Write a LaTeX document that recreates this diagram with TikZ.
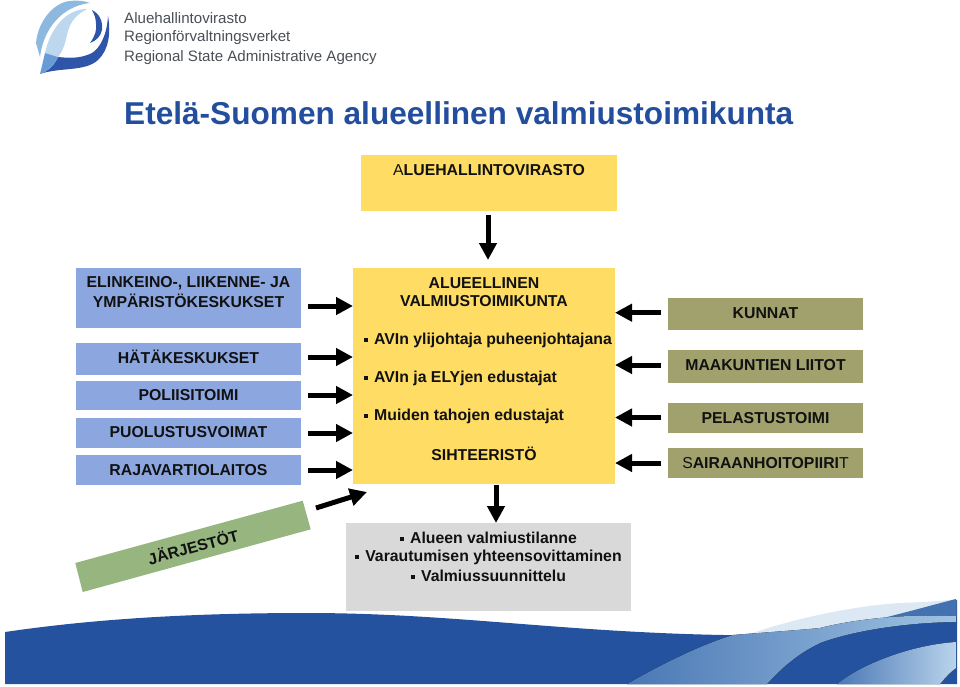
\documentclass[tikz,border=0pt]{standalone}
\usepackage{fontspec}
\setmainfont{Liberation Sans}
\usetikzlibrary{arrows.meta}
\definecolor{bluebox}{HTML}{8CA7E0}
\definecolor{yellowbox}{HTML}{FFDC64}
\definecolor{olivebox}{HTML}{A0A16C}
\definecolor{greenbox}{HTML}{96B57F}
\definecolor{graybox}{HTML}{D9D9D9}
\definecolor{titleblue}{HTML}{234E9E}
\definecolor{wavedark}{HTML}{24529F}
\definecolor{logotext}{HTML}{4A4F55}
\definecolor{ink}{HTML}{111111}
\newcommand{\bul}{\rule[2.5pt]{4pt}{4pt}}
\newcommand{\rg}[1]{{\mdseries #1}}
\tikzset{
  plainbox/.style={inner sep=0pt,outer sep=0pt,draw=none},
  lbl/.style={font=\fontsize{15.8}{15.8}\selectfont\bfseries,text=ink,inner sep=0pt},
  blk/.style={-{Triangle[length=17pt,width=17pt]},line width=5pt,draw=black},
  logoline/.style={font=\fontsize{15.1}{16}\selectfont,text=logotext,inner sep=0pt,anchor=west}
}
\begin{document}
\begin{tikzpicture}[x=1pt,y=-1pt]
\useasboundingbox (0,0) rectangle (960,686);
% logo
\fill[color={rgb,255:red,141;green,185;blue,224}] (36,43) .. controls (38,20) and (55,2) .. (70,1) .. controls (78,0) and (85,1) .. (90,3) .. controls (70,5) and (45,20) .. (40,57) -- cycle;
\fill[color={rgb,255:red,189;green,215;blue,238}] (45,53) .. controls (50,30) and (65,9) .. (87,9) .. controls (78,14) and (70,20) .. (67,35) .. controls (65,45) and (62,52) .. (58,57) -- cycle;
\fill[color={rgb,255:red,47;green,85;blue,168}] (40,74) .. controls (60,67) and (85,72) .. (98,60) .. controls (109,50) and (111,32) .. (108,16) .. controls (107,35) and (100,48) .. (92,53) .. controls (80,59) and (68,58) .. (58,57) .. controls (54,66) and (48,71) .. (40,74) -- cycle;
\fill[color={rgb,255:red,106;green,155;blue,214}] (45,53) -- (58,57) .. controls (54,66) and (48,71) .. (40,74) -- cycle;
\fill[color={rgb,255:red,47;green,85;blue,168}] (92,10) .. controls (100,14) and (103,22) .. (102,30) .. controls (101,36) and (96,41) .. (90,43) .. controls (95,36) and (97,30) .. (96,24) .. controls (96,18) and (94,14) .. (92,10) -- cycle;
\node[logoline] (logo1) at (124,18) {Aluehallintovirasto};
\node[logoline] (logo2) at (124,38) {Regionförvaltningsverket};
\node[logoline] (logo3) at (124,58) {Regional State Administrative Agency};
% title
\node[font=\fontsize{31.6}{32}\selectfont\bfseries,text=titleblue,inner sep=0pt,anchor=west] (title) at (124,113) {Etelä-Suomen alueellinen valmiustoimikunta};
% wave
\fill[wavedark] (5,632) .. controls (100,618) and (200,613) .. (307,613) .. controls (450,613) and (560,632) .. (724,635) .. controls (800,636) and (900,625) .. (957,600) -- (957,684) -- (5,684) -- cycle;
\fill[color={rgb,255:red,220;green,233;blue,245}] (753,633) .. controls (790,620) and (850,606) .. (900,603) .. controls (925,602) and (945,601) .. (956,599) -- (956,617) -- (820,628) -- cycle;
\fill[color={rgb,255:red,68;green,114;blue,176}] (887,617) .. controls (915,610) and (940,603) .. (956,599) -- (956,617) -- cycle;
\fill[left color={rgb,255:red,74;green,120;blue,181},right color={rgb,255:red,160;green,195;blue,226}] (627,684) .. controls (660,665) and (700,645) .. (733,635) .. controls (770,632) and (800,630) .. (820,628) .. controls (860,618) and (910,614) .. (956,616) -- (956,622) .. controls (920,622) and (860,628) .. (820,643) .. controls (795,655) and (780,670) .. (767,684) -- cycle;
\fill[left color={rgb,255:red,74;green,120;blue,181},right color={rgb,255:red,185;green,212;blue,236}] (837,684) .. controls (860,665) and (910,645) .. (956,642) -- (956,668) .. controls (950,672) and (945,678) .. (940,684) -- cycle;
% boxes
\node[plainbox,fill=yellowbox,minimum width=256pt,minimum height=56pt] (avi) at (489,183) {};
\node[lbl] (avilbl) at (489,170) {\rg{A}LUEHALLINTOVIRASTO};
\node[plainbox,fill=yellowbox,minimum width=262pt,minimum height=216pt] (center) at (484,376) {};
\node[lbl] (c1) at (484,283) {ALUEELLINEN};
\node[lbl] (c2) at (484,301) {VALMIUSTOIMIKUNTA};
\node[lbl,anchor=west] (c3) at (364,340) {\bul\hspace{6pt}AVIn ylijohtaja puheenjohtajana};
\node[lbl,anchor=west] (c4) at (364,378) {\bul\hspace{6pt}AVIn ja ELYjen edustajat};
\node[lbl,anchor=west] (c5) at (364,416) {\bul\hspace{6pt}Muiden tahojen edustajat};
\node[lbl] (c6) at (484,454) {SIHTEERISTÖ};
% left
\node[plainbox,fill=bluebox,minimum width=225pt,minimum height=60pt] (b1) at (188.5,298) {};
\node[plainbox,fill=bluebox,minimum width=225pt,minimum height=32pt] (b2) at (188.5,359) {};
\node[plainbox,fill=bluebox,minimum width=225pt,minimum height=29.5pt] (b3) at (188.5,395.5) {};
\node[plainbox,fill=bluebox,minimum width=225pt,minimum height=30pt] (b4) at (188.5,433) {};
\node[plainbox,fill=bluebox,minimum width=225pt,minimum height=30pt] (b5) at (188.5,470) {};
\node[lbl] (l1a) at (188.5,283) {ELINKEINO-, LIIKENNE- JA};
\node[lbl] (l1b) at (188.5,301) {YMPÄRISTÖKESKUKSET};
\node[lbl] (l2) at (188.5,357) {HÄTÄKESKUKSET};
\node[lbl] (l3) at (188.5,395) {POLIISITOIMI};
\node[lbl] (l4) at (188.5,432) {PUOLUSTUSVOIMAT};
\node[lbl] (l5) at (188.5,470) {RAJAVARTIOLAITOS};
% right
\node[plainbox,fill=olivebox,minimum width=195pt,minimum height=32pt] (o1) at (765.5,314) {};
\node[plainbox,fill=olivebox,minimum width=195pt,minimum height=32.5pt] (o2) at (765.5,366.25) {};
\node[plainbox,fill=olivebox,minimum width=195pt,minimum height=30pt] (o3) at (765.5,418) {};
\node[plainbox,fill=olivebox,minimum width=195pt,minimum height=30pt] (o4) at (765.5,463) {};
\node[lbl] (r1) at (765.5,313) {KUNNAT};
\node[lbl] (r2) at (765.5,365.5) {MAAKUNTIEN LIITOT};
\node[lbl] (r3) at (765.5,418) {PELASTUSTOIMI};
\node[lbl] (r4) at (765.5,463) {\rg{S}AIRAANHOITOPIIRI\rg{T}};
% jarjestot
\fill[greenbox] (75.3,563) -- (302.7,500.7) -- (310.7,529.3) -- (82.7,592) -- cycle;
\node[lbl,rotate=15.3] (jar) at (193,546.5) {JÄRJESTÖT};
% gray
\node[plainbox,fill=graybox,minimum width=285pt,minimum height=88pt] (gray) at (488.5,567) {};
\node[lbl] (g1) at (488.5,538) {\bul\hspace{6pt}Alueen valmiustilanne};
\node[lbl] (g2) at (488.5,557) {\bul\hspace{6pt}Varautumisen yhteensovittaminen};
\node[lbl] (g3) at (488.5,576) {\bul\hspace{6pt}Valmiussuunnittelu};
% arrows
\coordinate (ta) at (488,215); \coordinate (te) at (488,260);
\draw[blk] (ta) -- (te);
\coordinate (ba) at (496,485);
\draw[blk] (ba) -- (ba |- gray.north);
\foreach \y [count=\i] in {306,357,395,433,470}{
  \coordinate (la\i) at (308,\y);
  \draw[blk] (la\i) -- (center.west |- la\i);
}
\foreach \y [count=\i] in {312.7,365,417.5,463}{
  \coordinate (ra\i) at (661,\y);
  \draw[blk] (ra\i) -- (center.east |- ra\i);
}
\coordinate (ja) at (316,508); \coordinate (je) at (367,492);
\draw[blk] (ja) -- (je);
\end{tikzpicture}
\end{document}
